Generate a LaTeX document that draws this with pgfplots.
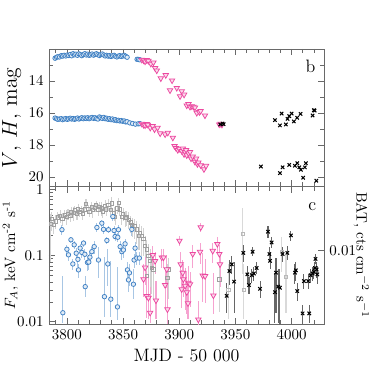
\documentclass[border=0pt]{standalone}
\usepackage{pgfplots}
\pgfplotsset{compat=1.18}
\usepackage{pgfplotstable}
\usetikzlibrary{calc}

\definecolor{cblue}{RGB}{62,128,196}
\definecolor{cpink}{RGB}{236,72,160}
\definecolor{frame}{RGB}{105,105,105}

% top panel: optical / IR magnitudes
\pgfplotstableread{
x y
3789.5 12.58
3790.8 12.52
3792.0 12.49
3793.5 12.50
3795.0 12.42
3796.2 12.45
3797.5 12.40
3799.0 12.44
3800.3 12.38
3801.6 12.41
3803.0 12.35
3804.2 12.43
3805.5 12.30
3806.8 12.37
3808.0 12.33
3809.4 12.40
3810.7 12.31
3812.0 12.36
3813.3 12.42
3814.6 12.35
3816.0 12.30
3817.2 12.38
3818.5 12.33
3819.8 12.40
3821.0 12.37
3822.4 12.32
3823.7 12.39
3825.0 12.34
3826.3 12.30
3827.6 12.36
3829.0 12.41
3830.2 12.35
3831.5 12.32
3832.8 12.38
3834.1 12.44
3835.4 12.40
3836.7 12.45
3838.0 12.42
3839.3 12.47
3840.6 12.43
3842.0 12.40
3843.2 12.46
3844.5 12.50
3845.8 12.45
3847.1 12.42
3848.4 12.47
3849.7 12.44
3851.0 12.40
3852.3 12.46
3853.6 12.52
3862.5 12.65
3863.8 12.66
3865.0 12.68
3789.5 16.32
3790.8 16.36
3792.0 16.40
3793.5 16.38
3795.0 16.36
3796.2 16.42
3797.5 16.38
3799.0 16.35
3800.3 16.40
3801.6 16.37
3803.0 16.33
3804.2 16.38
3805.5 16.35
3806.8 16.40
3808.0 16.36
3809.4 16.32
3810.7 16.38
3812.0 16.34
3813.3 16.30
3814.6 16.36
3816.0 16.31
3817.2 16.35
3818.5 16.30
3819.8 16.36
3821.0 16.32
3822.4 16.28
3823.7 16.34
3825.0 16.30
3826.3 16.35
3827.6 16.38
3829.0 16.25
3830.2 16.30
3831.5 16.34
3832.8 16.28
3834.1 16.36
3835.4 16.33
3836.7 16.40
3838.0 16.36
3839.3 16.42
3840.6 16.38
3842.0 16.45
3843.2 16.42
3844.5 16.48
3845.8 16.46
3847.1 16.50
3848.4 16.48
3849.7 16.52
3851.0 16.50
3852.3 16.56
3853.6 16.55
3856.0 16.62
3858.5 16.66
3861.0 16.70
3863.5 16.68
3865.0 16.67
}\magblue

\pgfplotstableread{
x y
3866.7 12.68
3868.2 12.72
3869.6 12.79
3871.0 12.70
3872.5 12.75
3874.7 12.93
3877.0 12.85
3878.5 13.20
3880.0 13.35
3883.6 13.84
3888.0 13.64
3891.8 14.59
3893.6 13.97
3897.8 14.44
3900.7 14.96
3902.2 14.65
3904.3 14.86
3906.7 15.54
3908.2 15.45
3909.6 15.62
3911.1 15.58
3912.6 15.62
3914.0 15.66
3915.6 16.00
3917.9 15.95
3919.0 15.88
3922.9 16.16
3935.6 16.72
3936.8 16.68
3938.0 16.74
3866.7 16.68
3868.2 16.75
3869.6 16.78
3871.0 16.70
3872.0 16.74
3874.2 16.93
3876.3 16.82
3878.0 17.03
3880.7 16.93
3883.0 17.28
3887.4 17.34
3889.8 17.24
3894.3 17.55
3895.8 18.07
3897.2 18.20
3898.7 18.32
3900.0 18.25
3902.2 18.38
3903.2 18.23
3904.3 18.58
3905.2 18.44
3906.1 18.32
3906.7 18.65
3908.2 18.52
3909.6 18.44
3910.5 18.85
3912.0 18.73
3914.0 19.06
3915.0 18.85
3916.2 19.20
3917.0 19.10
3919.1 19.27
3922.0 19.52
3923.8 19.31
}\magpink

\pgfplotstableread{
x y
3936.5 16.72
3938.5 16.66
3939.5 16.70
3985.2 16.45
3989.6 16.78
3991.1 16.04
3994.9 16.72
3996.4 16.37
3997.9 16.20
4000.0 16.04
4002.0 16.53
4005.0 16.30
4008.0 16.06
4018.7 16.16
4019.8 15.83
4020.5 15.85
3972.7 19.35
3989.6 19.76
3992.0 19.40
3997.9 19.25
4003.0 19.30
4005.0 19.14
4006.8 19.40
4008.3 19.55
4010.3 20.05
4011.8 19.40
4012.7 19.14
4022.0 20.24
}\magblack

% bottom panel: X-ray fluxes (x, y, error plus, error minus)
\pgfplotstableread{
x y ep em
3785.5 0.30 0.12 0.22
3786.7 0.36 0.10 0.12
3788.5 0.29 0.08 0.08
3790.0 0.33 0.08 0.08
3792.0 0.38 0.08 0.08
3794.0 0.40 0.09 0.09
3796.0 0.36 0.08 0.08
3798.0 0.41 0.08 0.08
3800.0 0.39 0.10 0.10
3801.0 0.43 0.08 0.08
3803.0 0.40 0.08 0.08
3804.0 0.46 0.09 0.09
3806.0 0.44 0.10 0.10
3807.0 0.49 0.08 0.08
3809.0 0.43 0.08 0.08
3810.0 0.50 0.10 0.10
3811.0 0.46 0.08 0.08
3813.0 0.49 0.08 0.08
3814.0 0.43 0.08 0.08
3816.0 0.50 0.10 0.10
3817.0 0.61 0.10 0.10
3819.0 0.51 0.08 0.08
3820.0 0.46 0.08 0.08
3822.0 0.55 0.10 0.10
3823.0 0.49 0.10 0.12
3825.0 0.53 0.08 0.08
3826.0 0.58 0.10 0.10
3828.0 0.50 0.10 0.10
3829.0 0.55 0.10 0.10
3831.0 0.52 0.12 0.12
3832.0 0.47 0.10 0.10
3834.0 0.57 0.12 0.12
3835.0 0.50 0.10 0.10
3837.0 0.59 0.12 0.12
3839.0 0.49 0.10 0.10
3840.0 0.62 0.15 0.15
3842.0 0.44 0.10 0.10
3843.0 0.39 0.10 0.10
3845.0 0.52 0.10 0.10
3846.0 0.63 0.12 0.12
3847.0 0.50 0.10 0.10
3849.0 0.39 0.10 0.10
3850.0 0.43 0.10 0.10
3852.0 0.37 0.10 0.10
3853.0 0.38 0.10 0.10
3855.0 0.35 0.10 0.10
3857.0 0.32 0.08 0.10
3858.0 0.29 0.08 0.10
3860.0 0.28 0.08 0.10
3862.0 0.25 0.08 0.10
3864.0 0.20 0.06 0.08
3865.0 0.22 0.08 0.10
3866.7 0.20 0.08 0.10
3868.2 0.178 0.08 0.08
3869.6 0.141 0.06 0.07
3871.1 0.125 0.05 0.07
3872.6 0.10 0.05 0.06
3874.1 0.084 0.04 0.06
3875.6 0.066 0.03 0.04
3877.0 0.062 0.03 0.04
3871.0 0.049 0.03 0.03
3889.5 0.046 0.03 0.03
3890.4 0.062 0.03 0.04
3935.7 0.044 0.03 0.03
}\fxgrey

\pgfplotstableread{
x y ep em
3795.6 0.247 0.04 0.04
3796.4 0.0137 0.035 0.004
3800.0 0.125 0.02 0.02
3801.4 0.103 0.02 0.02
3803.6 0.174 0.02 0.02
3805.3 0.075 0.015 0.015
3806.5 0.146 0.02 0.02
3808.3 0.109 0.02 0.02
3809.8 0.088 0.02 0.02
3810.3 0.061 0.015 0.015
3811.8 0.13 0.02 0.02
3813.3 0.112 0.02 0.02
3814.8 0.155 0.02 0.02
3816.0 0.105 0.02 0.02
3816.3 0.034 0.015 0.01
3818.3 0.079 0.02 0.02
3819.5 0.080 0.02 0.02
3820.5 0.095 0.02 0.02
3822.2 0.115 0.02 0.02
3824.3 0.137 0.03 0.03
3826.7 0.267 0.04 0.04
3828.1 0.086 0.05 0.04
3831.1 0.31 0.04 0.04
3832.6 0.25 0.04 0.04
3833.4 0.024 0.07 0.012
3835.6 0.17 0.02 0.02
3836.4 0.075 0.05 0.04
3837.0 0.247 0.03 0.03
3839.1 0.022 0.06 0.01
3840.9 0.39 0.05 0.05
3842.0 0.24 0.04 0.04
3842.9 0.195 0.03 0.03
3845.0 0.0168 0.05 0.006
3845.3 0.19 0.03 0.03
3845.9 0.247 0.04 0.04
3847.4 0.137 0.03 0.03
3848.9 0.115 0.03 0.03
3850.3 0.122 0.03 0.03
3851.8 0.151 0.03 0.03
3853.9 0.061 0.02 0.02
3854.8 0.043 0.02 0.015
3855.7 0.055 0.02 0.02
3857.8 0.25 0.05 0.05
3859.2 0.037 0.025 0.015
3859.8 0.086 0.02 0.02
3860.7 0.13 0.03 0.03
3862.2 0.092 0.02 0.02
3864.5 0.092 0.02 0.02
}\fxblue

\pgfplotstableread{
x y ep em
3868.2 0.044 0.03 0.02
3869.6 0.066 0.03 0.03
3871.1 0.0245 0.035 0.013
3872.6 0.023 0.03 0.012
3874.1 0.0137 0.02 0.004
3876.5 0.102 0.04 0.04
3878.5 0.083 0.03 0.03
3879.3 0.021 0.02 0.01
3884.5 0.094 0.03 0.03
3886.0 0.094 0.03 0.03
3887.4 0.036 0.03 0.02
3888.9 0.062 0.04 0.03
3889.5 0.0154 0.025 0.006
3900.2 0.168 0.03 0.03
3901.3 0.074 0.04 0.03
3902.2 0.031 0.03 0.015
3903.1 0.055 0.03 0.025
3903.7 0.044 0.03 0.02
3905.2 0.035 0.03 0.02
3906.7 0.028 0.03 0.015
3908.2 0.039 0.03 0.02
3907.8 0.019 0.02 0.008
3909.6 0.037 0.02 0.02
3912.0 0.106 0.04 0.04
3917.0 0.0108 0.01 0.002
3918.5 0.114 0.04 0.04
3919.1 0.268 0.04 0.04
3920.9 0.050 0.06 0.03
3923.0 0.049 0.04 0.03
3929.8 0.118 0.04 0.04
3930.4 0.025 0.03 0.012
3933.9 0.15 0.04 0.04
3935.7 0.106 0.04 0.04
3936.3 0.074 0.04 0.04
}\fxpink

\pgfplotstableread{
x y ep em
3942.2 0.0044 0.0012 0.0012
3944.6 0.0069 0.0015 0.0015
3946.7 0.0078 0.0012 0.0012
3948.8 0.0057 0.0025 0.0025
3957.0 0.0096 0.0015 0.0015
3960.6 0.0065 0.0010 0.0010
3962.1 0.00535 0.0008 0.0008
3964.5 0.0064 0.0008 0.0008
3965.3 0.0098 0.0008 0.0008
3966.5 0.0066 0.0008 0.0008
3968.9 0.0073 0.0008 0.0008
3971.9 0.0050 0.0008 0.0008
3979.0 0.0141 0.0015 0.0015
3980.2 0.0094 0.0012 0.0012
3980.8 0.0083 0.0012 0.0012
3982.2 0.0116 0.0012 0.0012
3985.2 0.0047 0.0020 0.0020
3986.1 0.0067 0.0020 0.0035
3988.2 0.0052 0.0020 0.0025
3989.6 0.0051 0.0020 0.0025
3992.0 0.0094 0.0012 0.0012
3996.2 0.0096 0.0012 0.0012
3999.4 0.0132 0.0012 0.0012
4003.0 0.0067 0.0012 0.0012
4003.8 0.0070 0.0012 0.0012
4005.0 0.0048 0.0008 0.0008
4009.8 0.0032 0.0005 0.0005
4011.0 0.00575 0.0008 0.0008
4014.8 0.00575 0.0008 0.0008
4015.7 0.0032 0.0005 0.0005
4016.9 0.0064 0.0008 0.0008
4018.7 0.0066 0.0008 0.0008
4019.9 0.0068 0.0008 0.0008
4020.8 0.0073 0.0008 0.0008
4021.3 0.0086 0.0008 0.0008
4022.3 0.0071 0.0010 0.0010
4022.9 0.0065 0.0010 0.0010
}\batblack

\pgfplotstableread{
x y ep em
3943.7 0.0049 0.003 0.002
3956.5 0.0135 0.008 0.007
3957.6 0.0049 0.003 0.002
3991.1 0.0098 0.003 0.003
3995.0 0.0062 0.003 0.003
}\batgrey

\begin{document}
\begin{tikzpicture}
\pgfplotsset{
  every axis/.append style={
    scale only axis, width=184pt,
    xmin=3784, xmax=4029,
    xtick distance=50, minor x tick num=4,
    x tick label style={/pgf/number format/1000 sep={}},
    axis line style={frame}, tick style={frame, line width=0.5pt},
  },
  ebar/.style={error bars/.cd, y dir=both, y explicit, error mark=none,
    error bar style={#1, line width=0.7pt}},
}

\begin{axis}[name=top, height=92pt,
  y dir=reverse, ymin=12, ymax=20.6,
  ytick={14,16,18,20}, minor ytick={13,15,17,19},
  xticklabels={},
  ylabel={\Large $V$, $H$, mag},
  every axis y label/.style={at={(axis description cs:-0.135,0.5)}, anchor=center, rotate=90},
]
\addplot[only marks, mark=*, mark size=1.5pt, cblue,
  mark options={fill=cblue!15, line width=0.5pt}] table[x=x,y=y] {\magblue};
\addplot[only marks, mark=triangle*, mark size=2.1pt, cpink,
  mark options={rotate=180, fill=cpink!20, line width=0.5pt}] table[x=x,y=y] {\magpink};
\addplot[only marks, mark=x, mark size=1.6pt, black,
  mark options={line width=0.7pt}] table[x=x,y=y] {\magblack};
\node at (axis description cs:0.95,0.87) {\large b};
\end{axis}

\begin{axis}[name=bot, height=92pt,
  at={(top.south west)}, anchor=north west,
  ymode=log, ymin=0.0092, ymax=1.11,
  log ticks with fixed point,
  ytick pos=left,
  xlabel={\large MJD - 50~000},
  ylabel={$F_A$, keV cm\textsuperscript{-2} s\textsuperscript{-1}},
  every axis y label/.style={at={(axis description cs:-0.14,0.5)}, anchor=center, rotate=90},
]
\addplot[only marks, mark=square, mark size=1.1pt, gray!75,
  mark options={line width=0.5pt}, ebar=gray!35]
  table[x=x,y=y,y error plus=ep,y error minus=em] {\fxgrey};
\addplot[only marks, mark=*, mark size=1.5pt, cblue,
  mark options={fill=cblue!15, line width=0.5pt}, ebar=cblue!45]
  table[x=x,y=y,y error plus=ep,y error minus=em] {\fxblue};
\addplot[only marks, mark=triangle*, mark size=2.1pt, cpink,
  mark options={rotate=180, fill=cpink!20, line width=0.5pt}, ebar=cpink!50]
  table[x=x,y=y,y error plus=ep,y error minus=em] {\fxpink};
\node at (axis description cs:0.957,0.856) {\large c};
\end{axis}

\begin{axis}[height=92pt,
  at={(top.south west)}, anchor=north west,
  ymode=log, ymin=0.00263, ymax=0.032,
  axis y line*=right, axis x line=none,
  ytick={0.01}, yticklabels={0.01},
  ylabel={BAT, cts cm$^{-2}$ s$^{-1}$},
  every axis y label/.style={at={(axis description cs:1.135,0.5)}, anchor=center, rotate=-90},
]
\addplot[only marks, mark=square, mark size=1.1pt, gray!55,
  mark options={line width=0.5pt}, ebar=gray!30]
  table[x=x,y=y,y error plus=ep,y error minus=em] {\batgrey};
\addplot[only marks, mark=x, mark size=1.6pt, black,
  mark options={line width=0.7pt}, ebar=gray!80!black]
  table[x=x,y=y,y error plus=ep,y error minus=em] {\batblack};
\end{axis}

\pgfresetboundingbox
\path ($(top.north west)+(-32.7pt,32.7pt)$) rectangle ($(bot.south east)+(32.7pt,-33.3pt)$);
\end{tikzpicture}
\end{document}
